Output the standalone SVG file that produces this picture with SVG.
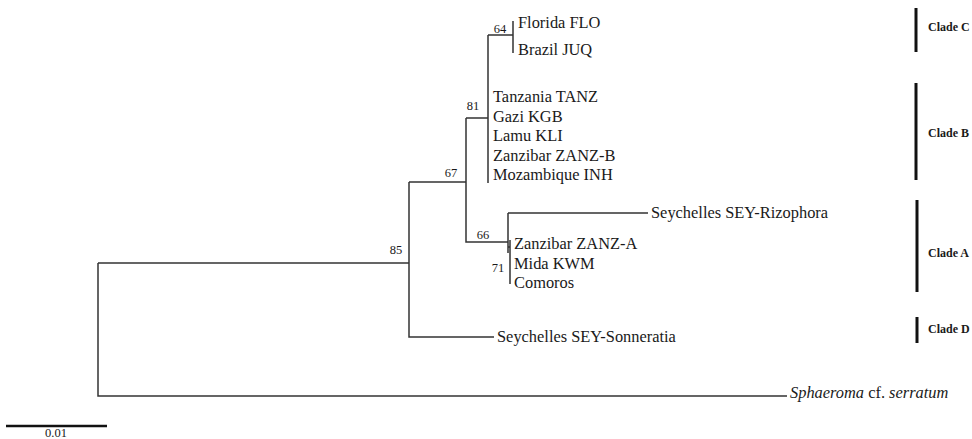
<svg xmlns="http://www.w3.org/2000/svg" width="972" height="439" viewBox="0 0 972 439">
<style>
.br{stroke:#333;stroke-width:1.5;fill:none}
.tx{font-family:"Liberation Serif","Times New Roman",serif;font-size:16.4px;fill:#1a1a1a}
.sp{font-family:"Liberation Serif","Times New Roman",serif;font-size:12.5px;fill:#1a1a1a;text-anchor:middle}
.cl{font-family:"Liberation Serif","Times New Roman",serif;font-size:12px;font-weight:bold;fill:#1a1a1a}
.bar{stroke:#111;stroke-width:3}
</style>
<rect width="972" height="439" fill="#fff"/>
<g id="connectors">
<path class="br" d="M98,263 H409 M98,263 V396 H787"/>
<path class="br" d="M409,182 V337 H494 M409,182 H466"/>
<path class="br" d="M466,118 V242 H508 M466,118 H488"/>
<path class="br" d="M488,35 V183 M488,35 H513 M513,21 V53"/>
<path class="br" d="M508,213 V253 M508,213 H648"/>
<path class="br" d="M508,247 H510 M510,240 V284"/>
</g>
<g id="supports">
<text class="sp" x="500" y="33">64</text>
<text class="sp" x="473" y="110">81</text>
<text class="sp" x="451" y="177">67</text>
<text class="sp" x="483" y="239">66</text>
<text class="sp" x="498" y="272">71</text>
<text class="sp" x="396" y="254">85</text>
</g>
<g id="taxa">
<text class="tx" x="518" y="28">Florida FLO</text>
<text class="tx" x="518" y="55">Brazil JUQ</text>
<text class="tx" x="493" y="102">Tanzania TANZ</text>
<text class="tx" x="493" y="121.5">Gazi KGB</text>
<text class="tx" x="493" y="141">Lamu KLI</text>
<text class="tx" x="493" y="160.5">Zanzibar ZANZ-B</text>
<text class="tx" x="493" y="180">Mozambique INH</text>
<text class="tx" x="651" y="218">Seychelles SEY-Rizophora</text>
<text class="tx" x="514" y="249">Zanzibar ZANZ-A</text>
<text class="tx" x="514" y="269">Mida KWM</text>
<text class="tx" x="514" y="288">Comoros</text>
<text class="tx" x="497" y="342">Seychelles SEY-Sonneratia</text>
<text class="tx" x="790" y="398"><tspan font-style="italic">Sphaeroma</tspan> cf. <tspan font-style="italic">serratum</tspan></text>
</g>
<g id="clades">
<line class="bar" x1="916" y1="8" x2="916" y2="52"/>
<text class="cl" x="928" y="31">Clade C</text>
<line class="bar" x1="916" y1="83" x2="916" y2="180"/>
<text class="cl" x="928" y="137">Clade B</text>
<line class="bar" x1="917" y1="200" x2="917" y2="292"/>
<text class="cl" x="928" y="257">Clade A</text>
<line class="bar" x1="917" y1="317" x2="917" y2="343"/>
<text class="cl" x="928" y="333">Clade D</text>
</g>
<g id="scale">
<line x1="6" y1="426" x2="107" y2="426" stroke="#111" stroke-width="2.5"/>
<text class="sp" x="56" y="437" font-size="12">0.01</text>
</g>
</svg>
